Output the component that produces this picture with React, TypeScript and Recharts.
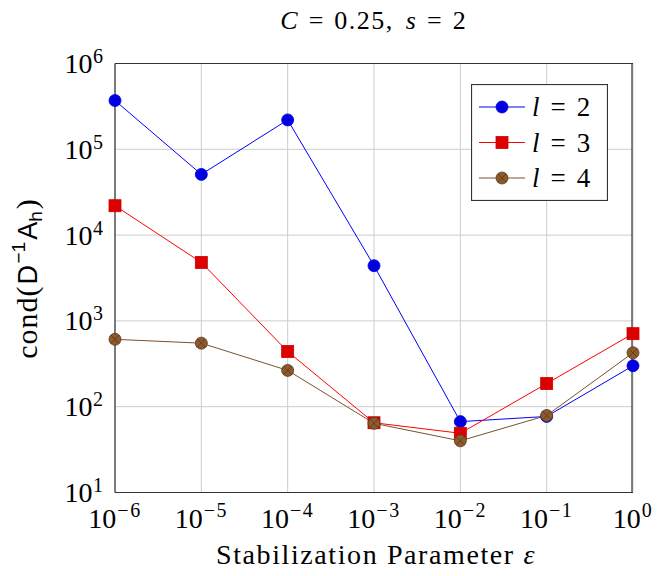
import React from 'react';
import { LineChart, Line, XAxis, YAxis, CartesianGrid, Legend, Customized } from 'recharts';

// ---- data ----
const epsValues = [1e-6, 1e-5, 1e-4, 1e-3, 1e-2, 1e-1, 1];
const l2Values = [3.7e5, 5.1e4, 2.2e5, 4.4e3, 67, 77, 300];
const l3Values = [2.2e4, 4.8e3, 440, 65, 49, 186, 710];
const l4Values = [610, 550, 265, 64, 40, 79, 425];
const xTicks = [1e-6, 1e-5, 1e-4, 1e-3, 1e-2, 1e-1, 1];
const yTicks = [1e1, 1e2, 1e3, 1e4, 1e5, 1e6];
const yMinorTicks: number[] = [];
for (let k = 1; k <= 5; k++) for (let m = 2; m <= 9; m++) yMinorTicks.push(m * Math.pow(10, k));

const seriesLabels = ['2', '3', '4'];

const data = epsValues.map((e, i) => ({ eps: e, l2: l2Values[i], l3: l3Values[i], l4: l4Values[i] }));

const FONT = "'Liberation Serif', 'DejaVu Serif', serif";
const SANS = "'Liberation Sans', 'DejaVu Sans', sans-serif";
const FRAME = '#333333';
const TICK = '#444444';

const BLUE_LINE = '#0000ff';
const BLUE_FILL = '#0000e0';
const RED_LINE = '#ff0000';
const RED_FILL = '#dd0000';
const BROWN_LINE = '#7a5230';
const BROWN_FILL = '#8c5a2c';
const BROWN_STROKE = '#5a3818';

const expText = (v: number) => {
  const e = Math.round(Math.log10(v));
  return e < 0 ? '\u2212' + String(-e) : String(e);
};

const XTick = (props: any) => {
  const { x, y, payload } = props;
  return (
    <text x={x} y={y + 35.5} textAnchor="middle" fontFamily={FONT} fontSize={28} fill="#000">
      10<tspan dx={1} dy={-11} fontSize={20} letterSpacing={1.5}>{expText(payload.value)}</tspan>
    </text>
  );
};

const YTick = (props: any) => {
  const { x, y, payload } = props;
  return (
    <text x={x - 12} y={y + 9.5} textAnchor="end" fontFamily={FONT} fontSize={28} fill="#000">
      10<tspan dx={0.5} dy={-10} fontSize={20}>{expText(payload.value)}</tspan>
    </text>
  );
};

const circleDot = (fill: string, stroke: string) => (props: any) => {
  const { cx, cy, index } = props;
  if (cx == null || cy == null) return <g key={`n${index}`} />;
  return <circle key={`c${index}`} cx={cx} cy={cy} r={6} fill={fill} stroke={stroke} strokeWidth={0.8} />;
};

const squareDot = (props: any) => {
  const { cx, cy, index } = props;
  if (cx == null || cy == null) return <g key={`n${index}`} />;
  return <rect key={`s${index}`} x={cx - 6} y={cy - 6} width={12} height={12} fill={RED_FILL} stroke="#cc0000" strokeWidth={0.8} />;
};

const crossDot = (props: any) => {
  const { cx, cy, index } = props;
  if (cx == null || cy == null) return <g key={`n${index}`} />;
  const d = 4.2;
  return (
    <g key={`x${index}`}>
      <circle cx={cx} cy={cy} r={6} fill={BROWN_FILL} stroke={BROWN_STROKE} strokeWidth={0.8} />
      <line x1={cx - d} y1={cy - d} x2={cx + d} y2={cy + d} stroke={BROWN_STROKE} strokeWidth={0.8} />
      <line x1={cx - d} y1={cy + d} x2={cx + d} y2={cy - d} stroke={BROWN_STROKE} strokeWidth={0.8} />
    </g>
  );
};

const LegendBox = () => {
  const rows = [23, 58.5, 94];
  const lineColors = [BLUE_LINE, RED_LINE, BROWN_LINE];
  return (
    <svg width={137} height={117} style={{ display: 'block' }}>
      <rect x={0.5} y={0.5} width={136} height={116} fill="#fff" stroke={FRAME} strokeWidth={1.2} />
      {rows.map((ry, i) => (
        <g key={i}>
          <line x1={8} y1={ry} x2={54} y2={ry} stroke={lineColors[i]} strokeWidth={1} />
          {i === 0 && <circle cx={31} cy={ry} r={6} fill={BLUE_FILL} stroke={BLUE_FILL} strokeWidth={0.8} />}
          {i === 1 && <rect x={25} y={ry - 6} width={12} height={12} fill={RED_FILL} stroke="#cc0000" strokeWidth={0.8} />}
          {i === 2 && (
            <g>
              <circle cx={31} cy={ry} r={6} fill={BROWN_FILL} stroke={BROWN_STROKE} strokeWidth={0.8} />
              <line x1={26.8} y1={ry - 4.2} x2={35.2} y2={ry + 4.2} stroke={BROWN_STROKE} strokeWidth={0.8} />
              <line x1={26.8} y1={ry + 4.2} x2={35.2} y2={ry - 4.2} stroke={BROWN_STROKE} strokeWidth={0.8} />
            </g>
          )}
          <text x={61} y={ry + 9} fontFamily={FONT} fontSize={27} fill="#000">
            <tspan fontStyle="italic">l</tspan>
            <tspan dx={11}>=</tspan>
            <tspan dx={11}>{seriesLabels[i]}</tspan>
          </text>
        </g>
      ))}
    </svg>
  );
};

const Texts = () => (
  <g>
    <text x={373} y={28.5} textAnchor="middle" fontFamily={FONT} fontSize={26} fill="#000">
      <tspan fontStyle="italic">C</tspan>
      <tspan dx={11}>=</tspan>
      <tspan dx={11} letterSpacing={1.5}>0.25,</tspan>
      <tspan dx={12} fontStyle="italic">s</tspan>
      <tspan dx={11}>=</tspan>
      <tspan dx={11}>2</tspan>
    </text>
    <text x={376} y={564} textAnchor="middle" fontFamily={FONT} fontSize={28} letterSpacing={1.6} fill="#000">
      Stabilization Parameter <tspan fontStyle="italic">ε</tspan>
    </text>
    <text transform="translate(37,279) rotate(-90)" textAnchor="middle" fontFamily={FONT} fontSize={30} fill="#000">
      <tspan letterSpacing={1}>cond(</tspan>
      <tspan fontFamily={SANS} fontSize={27} dx={1}>D</tspan>
      <tspan fontFamily={SANS} fontSize={19} dx={1.5} dy={-12}>{'\u2212'}1</tspan>
      <tspan fontFamily={SANS} fontSize={27} dx={2} dy={12}>A</tspan>
      <tspan fontFamily={SANS} fontSize={19} dy={5}>h</tspan>
      <tspan dx={2} dy={-5}>)</tspan>
    </text>
  </g>
);

const axisCommon = {
  type: 'number' as const,
  scale: 'log' as const,
  interval: 0 as const,
};

export default function App() {
  return (
    <div style={{ position: 'absolute', left: 0, top: 0, width: 657, height: 576, background: '#fff' }}>
      <LineChart
        width={657}
        height={576}
        data={data}
        margin={{ top: 63.5, right: 24, bottom: 33.5, left: 55 }}
      >
        <CartesianGrid xAxisId="main" yAxisId="main" stroke="#cccccc" strokeWidth={1} />
        <XAxis
          {...axisCommon}
          xAxisId="main"
          dataKey="eps"
          domain={[1e-6, 1]}
          ticks={xTicks}
          height={50}
          tickSize={0}
          tickMargin={0}
          tickLine={false}
          axisLine={{ stroke: FRAME, strokeWidth: 1.2 }}
          tick={<XTick />}
        />
        <XAxis
          {...axisCommon}
          xAxisId="top"
          dataKey="eps"
          domain={[1e-6, 1]}
          ticks={xTicks}
          orientation="top"
          mirror
          height={1}
          tickLine={false}
          tickFormatter={() => ''}
          axisLine={{ stroke: FRAME, strokeWidth: 1.2 }}
        />
        <YAxis
          {...axisCommon}
          yAxisId="main"
          domain={[10, 1e6]}
          ticks={yTicks}
          width={60}
          tickSize={0}
          tickMargin={0}
          tickLine={false}
          axisLine={{ stroke: FRAME, strokeWidth: 1.2 }}
          tick={<YTick />}
        />
        <YAxis
          {...axisCommon}
          yAxisId="minorL"
          domain={[10, 1e6]}
          ticks={yMinorTicks}
          mirror
          width={1}
          tickSize={7}
          tickLine={{ stroke: TICK, strokeWidth: 1 }}
          axisLine={false}
          tickFormatter={() => ''}
        />
        <YAxis
          {...axisCommon}
          yAxisId="majorL"
          domain={[10, 1e6]}
          ticks={yTicks}
          mirror
          width={1}
          tickSize={12}
          tickLine={{ stroke: TICK, strokeWidth: 1 }}
          axisLine={false}
          tickFormatter={() => ''}
        />
        <YAxis
          {...axisCommon}
          yAxisId="minorR"
          orientation="right"
          domain={[10, 1e6]}
          ticks={yMinorTicks}
          mirror
          width={1}
          tickSize={7}
          tickLine={{ stroke: TICK, strokeWidth: 1 }}
          axisLine={{ stroke: FRAME, strokeWidth: 1.2 }}
          tickFormatter={() => ''}
        />
        <YAxis
          {...axisCommon}
          yAxisId="majorR"
          orientation="right"
          domain={[10, 1e6]}
          ticks={yTicks}
          mirror
          width={1}
          tickSize={12}
          tickLine={{ stroke: TICK, strokeWidth: 1 }}
          axisLine={false}
          tickFormatter={() => ''}
        />
        <Line xAxisId="main" yAxisId="main" dataKey="l2" stroke={BLUE_LINE} strokeWidth={1}
          dot={circleDot(BLUE_FILL, BLUE_FILL)} isAnimationActive={false} />
        <Line xAxisId="main" yAxisId="main" dataKey="l3" stroke={RED_LINE} strokeWidth={1}
          dot={squareDot} isAnimationActive={false} />
        <Line xAxisId="main" yAxisId="main" dataKey="l4" stroke={BROWN_LINE} strokeWidth={1}
          dot={crossDot} isAnimationActive={false} />
        <Legend
          layout="vertical"
          align="center"
          verticalAlign="middle"
          wrapperStyle={{ position: 'absolute', left: 471, top: 84, width: 137, height: 117 }}
          content={() => <LegendBox />}
        />
        <Customized component={Texts} />
      </LineChart>
    </div>
  );
}
